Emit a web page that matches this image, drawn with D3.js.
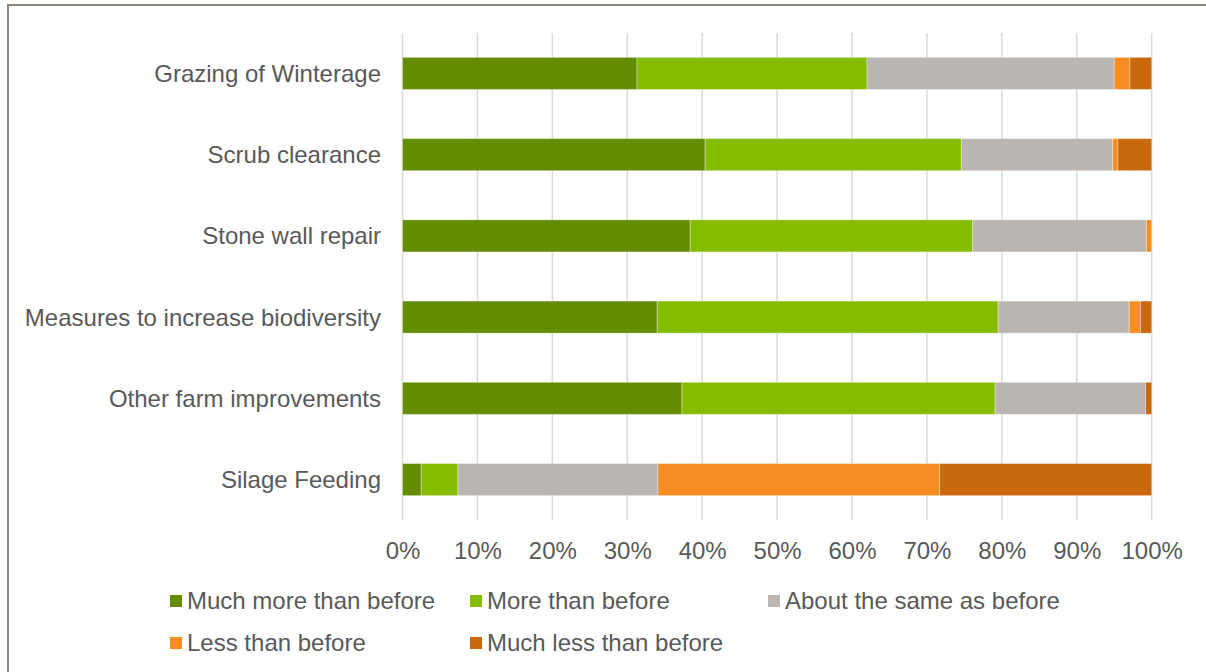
<!DOCTYPE html>
<html><head><meta charset="utf-8">
<script src="https://cdn.jsdelivr.net/npm/d3@7"></script>
<style>body{margin:0;background:#fff}svg{display:block}text{font-family:"Liberation Sans",Arial,sans-serif}</style>
</head><body><svg id="c" width="1206" height="672"></svg>
<script>
const categories = ["Grazing of Winterage","Scrub clearance","Stone wall repair","Measures to increase biodiversity","Other farm improvements","Silage Feeding"];
const seriesNames = ["Much more than before","More than before","About the same as before","Less than before","Much less than before"];
const muchMore = [31.3,40.4,38.4,34.0,37.3,2.5];
const more     = [30.7,34.2,37.7,45.5,41.8,4.9];
const same     = [33.0,20.2,23.2,17.5,20.1,26.7];
const less     = [2.1,0.7,0.7,1.5,0.0,37.6];
const muchLess = [2.9,4.5,0.0,1.5,0.8,28.3];
const colors = ["#638c00","#86bc00","#bab5b0","#f68d22","#c9680c"];
const tickValues = [0,10,20,30,40,50,60,70,80,90,100];
const FS = 24;

const svg = d3.select("#c");
svg.append("rect").attr("x",8).attr("y",5).attr("width",1300).attr("height",800)
  .attr("fill","none").attr("stroke","#8c8279").attr("stroke-width",2);

const x = d3.scaleLinear().domain([0,100]).range([402.5,1151.7]);
const y = d3.scaleBand().domain(categories).range([33,520]).paddingInner(0.605).paddingOuter(0.3);

svg.append("g").selectAll("line").data(tickValues).join("line")
  .attr("x1",d=>x(d)).attr("x2",d=>x(d)).attr("y1",33).attr("y2",520)
  .attr("stroke","#d9d9d9").attr("stroke-width",1.5);

const rows = categories.map((c,i)=>({cat:c, vals:[muchMore[i],more[i],same[i],less[i],muchLess[i]]}));
const stacked = d3.stack().keys(d3.range(5)).value((d,k)=>d.vals[k])(rows);

const bh = y.bandwidth();
svg.append("g").selectAll("g").data(stacked).join("g").attr("fill",(d,i)=>colors[i])
  .selectAll("rect").data(d=>d).join("rect")
  .attr("x",d=>x(d[0])).attr("width",d=>Math.max(0,x(d[1])-x(d[0])))
  .attr("y",d=>y(d.data.cat)).attr("height",bh)
  .attr("stroke","rgba(255,255,255,0.35)").attr("stroke-width",1);

svg.append("g").selectAll("text").data(categories).join("text")
  .attr("x",381).attr("y",d=>y(d)+bh/2).attr("dy","0.35em").attr("text-anchor","end")
  .attr("font-size",FS).attr("fill","#595959").text(d=>d);

const xAxis = d3.axisBottom(x).tickValues(tickValues).tickFormat(d=>d+"%").tickSize(0).tickPadding(0);
const ax = svg.append("g").attr("transform","translate(0,551)").call(xAxis);
ax.select(".domain").remove();
ax.selectAll("text").attr("font-size",FS).attr("fill","#595959").attr("dy","0.35em").attr("y",0)
  .style("font-family","'Liberation Sans',Arial,sans-serif");

const legPos = [[170,601],[470,601],[768,601],[170,643],[470,643]];
const lg = svg.append("g").selectAll("g").data(seriesNames).join("g")
  .attr("transform",(d,i)=>`translate(${legPos[i][0]},${legPos[i][1]})`);
lg.append("rect").attr("x",0).attr("y",-6).attr("width",12).attr("height",12).attr("fill",(d,i)=>colors[i]);
lg.append("text").attr("x",17).attr("dy","0.35em").attr("font-size",FS).attr("fill","#595959").text(d=>d);
</script></body></html>
